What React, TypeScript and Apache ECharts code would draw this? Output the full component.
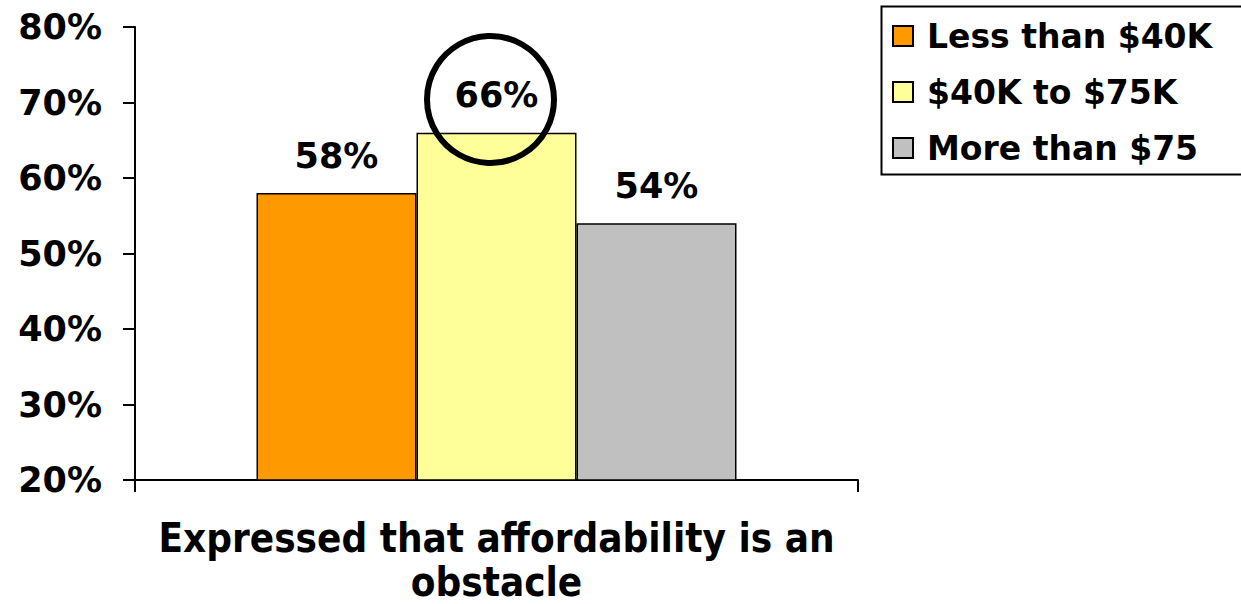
import React, { useEffect, useRef } from "react";
import * as echarts from "echarts";

const categories = ["Expressed that affordability is an\nobstacle"];
const seriesNames = ["Less than $40K", "$40K to $75K", "More than $75"];
const seriesValues = [[58], [66], [54]];
const seriesColors = ["#FF9900", "#FFFF99", "#C0C0C0"];
const yTicks = { min: 20, max: 80, interval: 10 };

const FONT = "DejaVu Sans";

export default function App() {
  const ref = useRef<HTMLDivElement>(null);
  useEffect(() => {
    if (!ref.current) return;
    const chart = echarts.init(ref.current, null, { renderer: "svg" });
    chart.setOption({
      animation: false,
      backgroundColor: "#fff",
      textStyle: { fontFamily: FONT },
      grid: { left: 135, right: 383, top: 27, bottom: 123, containLabel: false },
      legend: {
        orient: "vertical",
        left: 892,
        top: 18,
        padding: 0,
        itemWidth: 20,
        itemHeight: 20,
        itemGap: 20,
        icon: "rect",
        textStyle: {
          fontFamily: FONT,
          fontWeight: "bold",
          fontSize: 33,
          color: "#000",
          lineHeight: 36,
          padding: [0, 0, 0, 9],
        },
        data: seriesNames,
      },
      xAxis: {
        type: "category",
        data: categories,
        axisLine: { lineStyle: { color: "#000", width: 2 } },
        axisTick: { show: true, length: 12, lineStyle: { color: "#000", width: 2 } },
        axisLabel: {
          margin: 36,
          fontFamily: "DejaVu Sans Condensed",
          fontWeight: "bold",
          fontSize: 40,
          lineHeight: 44,
          color: "#000",
        },
      },
      yAxis: {
        type: "value",
        min: yTicks.min,
        max: yTicks.max,
        interval: yTicks.interval,
        splitLine: { show: false },
        axisLine: { show: true, lineStyle: { color: "#000", width: 2 } },
        axisTick: { show: true, length: 12, lineStyle: { color: "#000", width: 2 } },
        axisLabel: {
          margin: 33,
          fontFamily: FONT,
          fontWeight: "bold",
          fontSize: 35,
          color: "#000",
          formatter: (v: number) => v + "%",
        },
      },
      series: seriesNames.map((name, i) => ({
        name,
        type: "bar",
        data: seriesValues[i],
        barWidth: 160,
        barGap: "0%",
        itemStyle: { color: seriesColors[i], borderColor: "#000", borderWidth: 1.5 },
        label: {
          show: true,
          position: "top",
          distance: 20,
          fontFamily: FONT,
          fontWeight: "bold",
          fontSize: 35,
          color: "#000",
          formatter: (p: any) => p.value + "%",
        },
      })),
      graphic: [
        {
          type: "rect",
          left: 879,
          top: 4,
          shape: { x: 0, y: 0, width: 420, height: 168 },
          style: { fill: "none", stroke: "#000", lineWidth: 2 },
          silent: true,
        },
        {
          type: "circle",
          shape: { cx: 490.5, cy: 99.5, r: 63.5 },
          style: { fill: "none", stroke: "#000", lineWidth: 6 },
          z: 100,
          silent: true,
        },
      ],
    });
    return () => chart.dispose();
  }, []);
  return <div ref={ref} style={{ position: "absolute", left: 0, top: 0, width: 1241, height: 604 }} />;
}
